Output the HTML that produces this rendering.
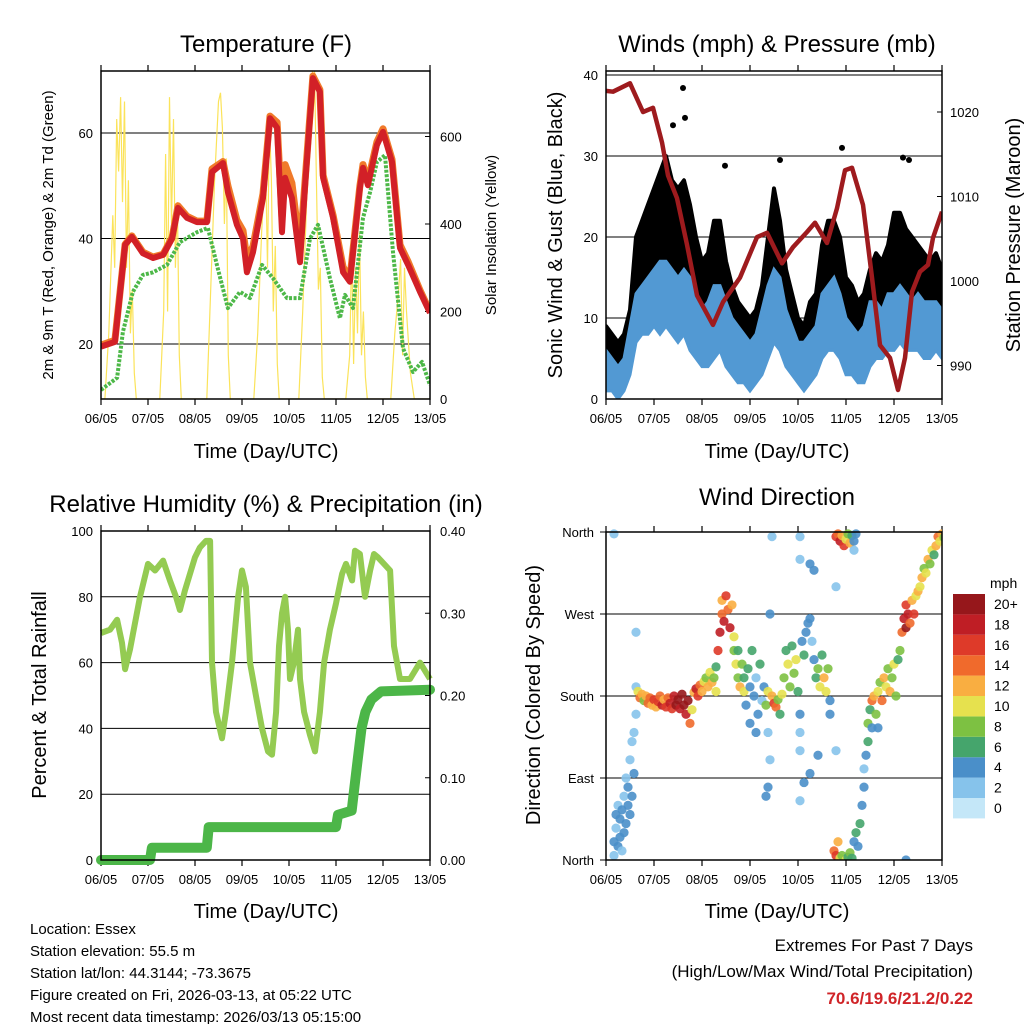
<!DOCTYPE html>
<html><head><meta charset="utf-8">
<style>
body{margin:0;background:#fff;}
svg{display:block;font-family:"Liberation Sans",sans-serif;}
</style></head>
<body>
<svg id="s" width="1024" height="1024" viewBox="0 0 1024 1024" xmlns="http://www.w3.org/2000/svg">
<rect width="1024" height="1024" fill="#fff"/>
<text x="266" y="52" font-size="24" text-anchor="middle">Temperature (F)</text>
<text x="777" y="52" font-size="24" text-anchor="middle">Winds (mph) &amp; Pressure (mb)</text>
<text x="266" y="512" font-size="24" text-anchor="middle">Relative Humidity (%) &amp; Precipitation (in)</text>
<text x="777" y="505" font-size="24" text-anchor="middle">Wind Direction</text>
<text transform="translate(53,235) rotate(-90)" font-size="15" text-anchor="middle">2m &amp; 9m T (Red, Orange) &amp; 2m Td (Green)</text>
<text transform="translate(496,235) rotate(-90)" font-size="15" text-anchor="middle">Solar Insolation (Yellow)</text>
<text transform="translate(562,235) rotate(-90)" font-size="20" text-anchor="middle">Sonic Wind &amp; Gust (Blue, Black)</text>
<text transform="translate(1020,235) rotate(-90)" font-size="20" text-anchor="middle">Station Pressure (Maroon)</text>
<text transform="translate(46,695) rotate(-90)" font-size="20" text-anchor="middle">Percent &amp; Total Rainfall</text>
<text transform="translate(540,695) rotate(-90)" font-size="20" text-anchor="middle">Direction (Colored By Speed)</text>
<text x="266" y="458" font-size="20" text-anchor="middle">Time (Day/UTC)</text>
<text x="777" y="458" font-size="20" text-anchor="middle">Time (Day/UTC)</text>
<text x="266" y="918" font-size="20" text-anchor="middle">Time (Day/UTC)</text>
<text x="777" y="918" font-size="20" text-anchor="middle">Time (Day/UTC)</text>
<g font-size="15">
<text x="30" y="934">Location: Essex</text>
<text x="30" y="956">Station elevation: 55.5 m</text>
<text x="30" y="978">Station lat/lon: 44.3144; -73.3675</text>
<text x="30" y="1000">Figure created on Fri, 2026-03-13, at 05:22 UTC</text>
<text x="30" y="1022">Most recent data timestamp: 2026/03/13 05:15:00</text>
</g>
<g font-size="17" text-anchor="end">
<text x="973" y="951">Extremes For Past 7 Days</text>
<text x="973" y="977">(High/Low/Max Wind/Total Precipitation)</text>
<text x="973" y="1004" fill="#d02428" font-weight="bold">70.6/19.6/21.2/0.22</text>
</g>
</svg>
<script>
const dayLabels=["06/05","07/05","08/05","09/05","10/05","11/05","12/05","13/05"];
// Temperature panel
const tempT=[0,7.1,12.3,15.8,21.4,26.6,31.7,36.3,39.3,43.9,49,54.1,56.7,62.3,64.8,69.4,72.5,74.5,77.6,82.7,86.3,89.9,92.4,94,97.5,101.6,104.2,108.2,111.8,113.4,118.5,123.6,127.1,132.2,133.8,136.3,140.9,144,148.6,152.7,156.8,162.9,168];
const temp2m=[19.5,20.4,38.8,40.3,37.2,36.3,36.9,40,45.8,43.9,43.1,43.1,52.6,54.3,48.8,42.6,40,33.6,37.4,47.7,62.8,61,41.2,51.5,47.7,35.5,50.1,70.4,67.8,51.5,43.9,33.6,31.8,49.6,53.4,50.1,57.7,60.2,54.5,38.2,35,29.9,25.9];
const temp9m=[19.8,20.7,38.9,40.5,37.4,36.5,37,40.2,46.2,44.2,43.3,43.3,53.2,54.6,50,43.5,41.5,36,38.5,48.5,63.2,62,44,54,50.5,38,51,70.8,68.2,52,44.4,34.6,32.4,50,54,50.8,58.3,60.8,55,38.8,35.6,30.2,26.1];
const dewT=[0,8.2,11.2,16.3,21.4,26.6,33.7,40.3,49,54.6,59.2,64.8,71,76.1,82.2,87.8,95,101.6,106.7,110.8,116.9,122,124.6,128.7,133.8,137.4,140.9,145,149.1,154.2,159.3,163.9,168];
const dewPt=[11.3,13.6,22.3,29.9,33.1,33.6,35,39.3,41.2,42,35,26.8,29.9,28.7,35,32.5,28.7,28.7,40,42.6,32.5,24.9,29.3,26.8,43.9,48.8,54.5,55.8,37.4,19.2,14.7,16.6,12.2];
const solarT=[0,2,4,6,7,8,9,10,11,12,13,14,15,16,17,18,30,32,33,34,35,36,37,38,39,40,41,54,56,58,60,61,62,63,64,65,66,78,80,82,84,85,86,87,88,89,90,91,101,103,105,107,108,109,110,111,112,113,114,125,127,128,129,130,131,132,133,134,135,136,148,150,152,153,154,155,156,158,160,168];
const solarW=[0,0,150,420,300,640,520,690,450,680,300,500,150,250,60,0,0,200,560,200,690,400,640,300,450,100,0,0,250,500,680,700,620,400,550,100,0,0,150,380,550,300,640,500,200,350,80,0,0,200,450,600,750,760,500,250,300,50,0,0,100,350,80,300,150,380,100,200,50,0,0,150,250,320,100,300,200,60,0,0];
const tempTicks=[20,40,60];
const solarTicks=[0,200,400,600];
// Winds panel
const windT=[0,3,6,9,12,15,18,21,24,27,30,33,36,39,42,45,48,51,54,57,60,63,66,69,72,75,78,81,84,87,90,93,96,99,102,105,108,111,114,117,120,123,126,129,132,135,138,141,144,147,150,153,156,159,162,165,168];
const windLo=[1,1,0,1,3,7,8,8,9,8,9,8,7,8,6,5,4,4,5,6,4,3,2,2,1,2,3,5,7,6,4,3,2,1,2,3,5,6,6,5,3,3,2,2,4,5,5,6,6,7,6,6,6,5,5,6,5];
const windHi=[6,5,4,5,9,13,14,15,16,17,17,16,15,16,15,13,11,12,14,14,12,10,9,8,7,8,11,14,16,15,11,9,7,7,8,9,13,14,15,13,10,9,8,9,12,12,11,13,13,14,13,12,13,12,12,12,11];
const gustHi=[9,8,7,8,11,20,22,24,26,28,30,27,26,27,24,20,17,18,22,22,17,14,12,11,10,11,14,20,26,22,16,13,10,9,12,13,19,22,22,20,15,14,12,13,16,18,17,19,23,23,21,20,19,18,17,18,16];
const gustOutT=[38.5,39.5,33.5,118,148.5,151.5,87,59.5];
const gustOutV=[38.4,34.7,33.8,31,29.8,29.5,29.5,28.8];
const presT=[0,3.5,12,18.5,23.5,28,31,35.5,40.5,45.5,53.5,58.5,63.5,67,75.5,80.5,88,93.5,100.5,104.5,110.5,115.5,119.5,123,128.5,133,137,142,146,149.5,153,157,161,163.5,168];
const presMb=[1022.5,1022.4,1023.4,1020,1020.5,1016.4,1012.5,1009.8,1004.3,998.3,994.8,997.5,999.2,1000.4,1005.2,1005.7,1002.1,1004,1005.8,1006.9,1004.5,1008.6,1013.1,1013.4,1009,1000.4,992.4,990.9,987.1,990.9,998.7,1001.1,1001.9,1005.1,1008.2];
const windTicks=[0,10,20,30,40];
const presTicks=[990,1000,1010,1020];
// RH panel
const rhT=[0,4.6,8.2,10.7,12.3,14.8,19.9,24,27.6,31.7,35.2,38.3,40.3,42.9,48,50.5,53.6,55.7,56.7,58.7,61.8,63.8,66.9,70,72,74,76.1,79.1,82.2,85.3,87.3,89.4,90.9,92.4,94,95.5,96.5,98.5,100.6,101.6,103.7,106.7,109.3,111.8,113.9,116.9,120,123.1,125.1,128.2,129.7,132.2,134.8,137.4,139.4,141.4,144.5,147.6,149.6,152.7,157.8,162.9,168];
const rhPct=[69,70,73,66,58,64,80,90,88,91,85,80,76,82,92,95,97,97,60,45,37,45,60,80,88,83,60,50,40,33,32,45,65,75,80,70,55,60,70,55,45,38,33,45,60,70,78,87,90,85,94,93,80,88,93,92,90,88,65,55,55,60,55];
const precT=[0,25,26,54,55,120,121,128,129,131,133,135,138,143,168];
const precIn=[0,0,0.015,0.015,0.04,0.04,0.055,0.06,0.08,0.12,0.16,0.18,0.195,0.205,0.207];
const rhTicks=[0,20,40,60,80,100];
const precTicks=["0.00","0.10","0.20","0.30","0.40"];
// Wind direction panel
const dirT=[4,4,5,5,6,6,7,7,8,8,9,9,10,10,11,11,12,12,13,13,14,14,15,15,16,17,18,19,20,21,22,23,24,25,26,27,28,29,30,31,32,33,34,35,36,37,38,39,40,41,42,43,44,45,46,47,48,49,50,51,52,53,54,55,55,56,57,58,58,59,60,61,62,63,64,64,65,66,66,67,68,69,69,70,71,72,72,73,74,75,75,76,77,78,79,80,81,81,83,84,85,86,87,88,89,90,91,92,93,94,95,96,97,97,98,99,100,101,102,103,104,105,106,107,108,109,110,111,112,112,115,116,117,118,119,120,121,122,123,124,125,124,114,115,116,117,118,120,121,122,123,124,125,126,127,128,129,129,130,131,131,132,133,133,134,135,136,136,137,138,139,140,141,142,143,144,145,146,147,148,149,150,150,151,152,153,154,155,156,157,158,159,160,161,162,163,164,165,166,167,168,169,4,83,97,97,102,104,15,115,82,82,81,80,97,99,102,106,97,115,150];
const dirDeg=[20,5,35,50,15,60,25,45,10,55,30,70,40,90,60,80,50,110,70,130,140,95,160,190,185,178,182,175,180,172,178,170,176,168,174,180,170,176,168,178,172,166,180,170,176,166,182,170,160,175,150,165,184,188,180,192,185,196,200,190,206,195,200,212,185,230,250,270,285,262,290,275,255,280,245,230,215,200,230,190,215,200,185,170,210,150,190,230,180,140,200,160,215,175,190,170,185,140,180,172,168,176,160,182,200,230,215,190,235,205,220,185,160,140,240,225,250,260,265,240,220,200,210,190,225,200,185,210,175,160,355,358,350,356,345,352,358,348,356,350,358,340,10,5,20,2,5,0,3,8,2,20,30,15,40,60,80,100,115,130,150,165,145,175,180,160,145,185,195,175,200,190,210,185,200,215,180,220,230,250,265,280,255,270,260,285,270,290,295,300,310,320,315,330,325,340,335,345,355,350,358,354,358,355,355,330,325,318,250,300,270,110,80,70,65,85,95,115,120,120,0];
const dirSpd=[3,2,2,4,3,2,4,3,2,4,3,2,4,2,3,4,4,2,4,2,2,4,2,1,10,14,12,8,12,13,14,12,16,12,16,14,17,12,16,14,18,16,17,19,20,18,20,20,18,20,14,10,12,18,16,14,12,10,8,12,10,12,8,6,10,16,18,14,12,17,16,14,18,12,10,8,10,8,6,12,8,6,10,4,6,3,4,6,4,3,2,4,6,2,4,8,10,2,12,16,14,8,6,10,8,6,10,8,6,8,10,6,4,2,4,6,4,3,4,2,4,6,8,10,6,12,10,8,4,4,16,14,18,12,16,10,8,12,6,4,4,2,14,16,12,10,8,10,6,8,6,4,6,4,6,4,4,2,4,6,8,6,4,14,12,8,4,10,8,14,12,10,8,12,8,10,8,6,8,14,18,16,20,18,14,12,16,10,12,10,12,8,10,12,8,10,6,12,14,10,12,8,1,2,1,2,3,3,1,1,3,1,3,3,1,3,3,3,1,1,3];
const speedBins=["0","2","4","6","8","10","12","14","16","18","20+"];
const speedColors=["#c4e7f8","#86c3eb","#4a8fc9","#45a56c","#7dc142","#e6e14e","#f9ae41","#f06a2c","#de3a29","#bf1e25","#96171b"];
const dirTicks=["North","East","South","West","North"];

const svg=document.getElementById('s');
const NS="http://www.w3.org/2000/svg";
function mk(tag,attrs,parent){const e=document.createElementNS(NS,tag);for(const k in attrs)e.setAttribute(k,attrs[k]);(parent||svg).appendChild(e);return e;}
function poly(xs,ys,fx,fy){return xs.map((v,i)=>fx(v).toFixed(1)+","+fy(ys[i]).toFixed(1)).join(" ");}

function frame(name,x0,x1,y0,y1){
  const g=mk('g',{});
  
  
  const fx=t=>x0+(x1-x0)*t/168;
  dayLabels.forEach((d,i)=>{
    const x=fx(i*24);
    const t1=mk('text',{x:x,y:y1+24,'font-size':13,'text-anchor':'middle'},g);
    t1.textContent=d;
    
    
    mk('line',{x1:x,x2:x,y1:y1,y2:y1+6,stroke:'#000','stroke-width':1.2},g);
    mk('line',{x1:x,x2:x,y1:y0,y2:y0-6,stroke:'#000','stroke-width':1.2},g);
  });
  return g;
}
function border(x0,x1,y0,y1){mk('rect',{x:x0,y:y0,width:x1-x0,height:y1-y0,fill:'none',stroke:'#000','stroke-width':1.5});}
function clip(id,x0,x1,y0,y1){const c=mk('clipPath',{id:id});mk('rect',{x:x0,y:y0,width:x1-x0,height:y1-y0},c);}

// ===== Temperature =====
(function(){
  const x0=101,x1=430,y0=71,y1=399;
  const fx=t=>x0+(x1-x0)*t/168;
  const fy=v=>344-(v-20)*5.275;
  const fs=v=>399-v*0.4375;
  clip('c1',x0,x1,y0,y1);
  frame('temperature',x0,x1,y0,y1);
  tempTicks.forEach(v=>{
    mk('line',{x1:x0,x2:x1,y1:fy(v),y2:fy(v),stroke:'#000','stroke-width':1});
    const t=mk('text',{x:x0-8,y:fy(v)+5,'font-size':13,'text-anchor':'end'});t.textContent=v;
    
    
  });
  solarTicks.forEach(v=>{
    mk('line',{x1:x1,x2:x1-5,y1:fs(v),y2:fs(v),stroke:'#000'});
    const t=mk('text',{x:x1+10,y:fs(v)+5,'font-size':13});t.textContent=v;
    
    
  });
  const g=mk('g',{'clip-path':'url(#c1)'});
  const s=mk('polyline',{points:poly(solarT,solarW,fx,fs),fill:'none',stroke:'#fbe35a','stroke-width':1.2},g);
  
  
  const d=mk('polyline',{points:poly(dewT,dewPt,fx,fy),fill:'none',stroke:'#4db848','stroke-width':4,'stroke-dasharray':'3 1.5','stroke-linejoin':'round'},g);
  
  
  const o=mk('polyline',{points:poly(tempT,temp9m,fx,fy),fill:'none',stroke:'#f07a2a','stroke-width':7,'stroke-linejoin':'round'},g);
  
  
  const r=mk('polyline',{points:poly(tempT,temp2m,fx,fy),fill:'none',stroke:'#d22027','stroke-width':6,'stroke-linejoin':'round'},g);
  
  
  border(x0,x1,y0,y1);
})();

// ===== Winds =====
(function(){
  const x0=606,x1=942,y0=71,y1=399;
  const fx=t=>x0+(x1-x0)*t/168;
  const fy=v=>399-v*8.1;
  const fp=p=>281-(p-1000)*8.45;
  clip('c2',x0,x1,y0,y1);
  frame('winds',x0,x1,y0,y1);
  windTicks.forEach(v=>{
    mk('line',{x1:x0,x2:x1,y1:fy(v),y2:fy(v),stroke:'#000','stroke-width':1});
    const t=mk('text',{x:x0-8,y:fy(v)+5,'font-size':13,'text-anchor':'end'});t.textContent=v;
    
    
  });
  presTicks.forEach(v=>{
    mk('line',{x1:x1,x2:x1-5,y1:fp(v),y2:fp(v),stroke:'#000'});
    const t=mk('text',{x:x1+8,y:fp(v)+5,'font-size':13});t.textContent=v;
    
    
  });
  const g=mk('g',{'clip-path':'url(#c2)'});
  const topPts=windT.map((t,i)=>fx(t).toFixed(1)+","+fy(gustHi[i]).toFixed(1));
  const midPts=windT.map((t,i)=>fx(t).toFixed(1)+","+fy(windHi[i]-2).toFixed(1)).reverse();
  const gb=mk('polygon',{points:topPts.concat(midPts).join(" "),fill:'#000',stroke:'#000','stroke-width':4,'stroke-linejoin':'round'},g);
  
  
  const botPts=windT.map((t,i)=>fx(t).toFixed(1)+","+fy(windLo[i]).toFixed(1)).reverse();
  const wt=windT.map((t,i)=>fx(t).toFixed(1)+","+fy(windHi[i]).toFixed(1));
  const wb=mk('polygon',{points:wt.concat(botPts).join(" "),fill:'#5299d3',stroke:'#5299d3','stroke-width':3},g);
  
  
  gustOutT.forEach((t,i)=>{
    const c=mk('circle',{cx:fx(t),cy:fy(gustOutV[i]),r:3,fill:'#000'},g);
    
    
  });
  const p=mk('polyline',{points:poly(presT,presMb,fx,fp),fill:'none',stroke:'#9e1b1e','stroke-width':4.5,'stroke-linejoin':'round'},g);
  
  
  border(x0,x1,y0,y1);
})();

// ===== RH =====
(function(){
  const x0=101,x1=430,y0=531,y1=860;
  const fx=t=>x0+(x1-x0)*t/168;
  const fy=v=>860-v*3.29;
  const fr=v=>860-v*250*3.29;
  clip('c3',x0-8,x1+8,y0,y1+8);
  frame('humidity',x0,x1,y0,y1);
  rhTicks.forEach(v=>{
    if(v>0&&v<100) mk('line',{x1:x0,x2:x1,y1:fy(v),y2:fy(v),stroke:'#000','stroke-width':1});
    const t=mk('text',{x:x0-8,y:fy(v)+5,'font-size':13,'text-anchor':'end'});t.textContent=v;
    
    
  });
  precTicks.forEach(v=>{
    const y=fr(parseFloat(v));
    mk('line',{x1:x1,x2:x1-5,y1:y,y2:y,stroke:'#000'});
    const t=mk('text',{x:x1+10,y:y+5,'font-size':13});t.textContent=v;
    
    
  });
  const g=mk('g',{'clip-path':'url(#c3)'});
  const r=mk('polyline',{points:poly(rhT,rhPct,fx,fy),fill:'none',stroke:'#94cb52','stroke-width':6,'stroke-linejoin':'round'},g);
  
  
  const p=mk('polyline',{points:poly(precT,precIn,fx,fr),fill:'none',stroke:'#4cb648','stroke-width':10,'stroke-linejoin':'round','stroke-linecap':'round'},g);
  
  
  border(x0,x1,y0,y1);
})();

// ===== Wind direction =====
(function(){
  const x0=606,x1=942,y0=532,y1=860;
  const fx=t=>x0+(x1-x0)*t/168;
  const fy=d=>860-d*0.911;
  clip('c4',x0,x1,y0-4,y1);
  frame('direction',x0,x1,y0,y1);
  dirTicks.forEach((n,i)=>{
    const y=fy(i*90);
    mk('line',{x1:x0-6,x2:x1,y1:y,y2:y,stroke:'#000','stroke-width':1});
    const t=mk('text',{x:x0-12,y:y+5,'font-size':13,'text-anchor':'end'});t.textContent=n;
    
    
  });
  const g=mk('g',{'clip-path':'url(#c4)'});
  dirT.forEach((t,i)=>{
    const idx=Math.min(10,Math.round(dirSpd[i]/2));
    const c=mk('circle',{cx:fx(t),cy:fy(dirDeg[i]),r:4.6,fill:speedColors[idx],'fill-opacity':0.9},g);
    
    
  });
  border(x0,x1,y0,y1);
  const lg=mk('g',{});
  
  
  const lt=mk('text',{x:990,y:588,'font-size':14},lg);lt.textContent='mph';
  speedBins.forEach((b,i)=>{
    const y=798-i*20.4;
    const r=mk('rect',{x:953,y:y,width:32,height:20.4,fill:speedColors[i]},lg);
    
    
    const t=mk('text',{x:994,y:y+15,'font-size':14},lg);t.textContent=b;
    
    
  });
})();
</script>
</body></html>
